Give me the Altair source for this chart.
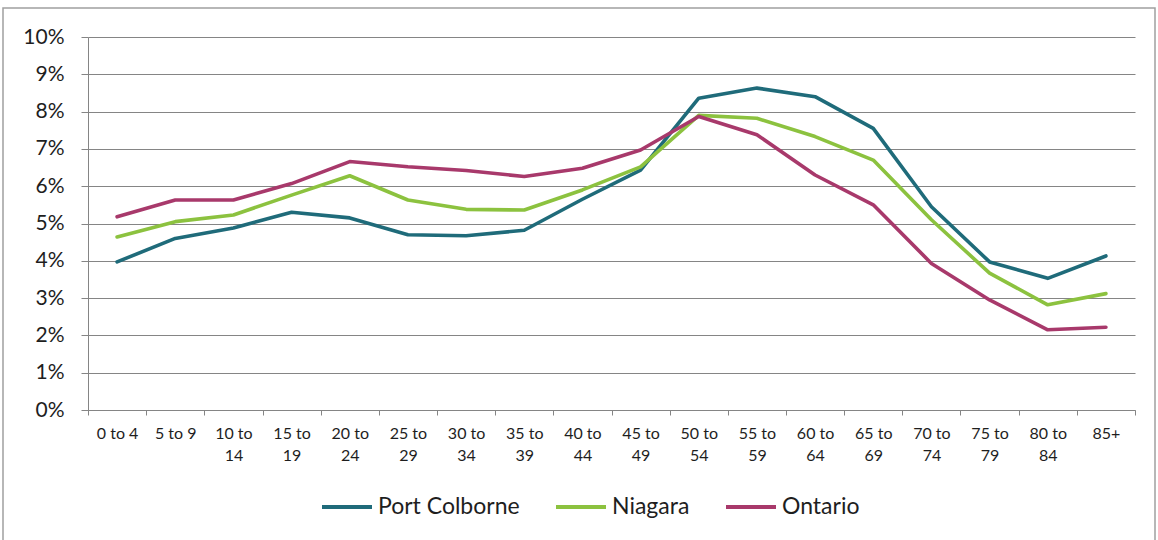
import altair as alt
import pandas as pd

# Share of population by five-year age group
age_groups = [
    "0 to 4", "5 to 9", "10 to 14", "15 to 19", "20 to 24", "25 to 29",
    "30 to 34", "35 to 39", "40 to 44", "45 to 49", "50 to 54", "55 to 59",
    "60 to 64", "65 to 69", "70 to 74", "75 to 79", "80 to 84", "85+",
]
port_colborne = [3.97, 4.60, 4.88, 5.30, 5.15, 4.70, 4.67, 4.82, 5.65, 6.43,
                 8.36, 8.63, 8.40, 7.55, 5.45, 3.97, 3.53, 4.13]
niagara = [4.64, 5.05, 5.23, 5.76, 6.28, 5.63, 5.38, 5.36, 5.90, 6.52,
           7.90, 7.82, 7.33, 6.70, 5.10, 3.67, 2.82, 3.12]
ontario = [5.18, 5.63, 5.63, 6.07, 6.66, 6.52, 6.42, 6.26, 6.48, 6.97,
           7.87, 7.38, 6.30, 5.50, 3.93, 2.95, 2.15, 2.22]

series_names = ["Port Colborne", "Niagara", "Ontario"]
series_colors = ["#1f6b7a", "#8cc23f", "#a8396b"]

rows = []
for name, values in zip(series_names, [port_colborne, niagara, ontario]):
    for i, (age, v) in enumerate(zip(age_groups, values)):
        rows.append({"age": age, "order": i, "region": name, "share": v / 100})
df = pd.DataFrame(rows)

FONT = "Lato"
TEXT = "#1e1e1e"
GRID = "#858585"

split_label = (
    "indexof(datum.label, ' to ') > 0 && length(datum.label) > 6 ? "
    "[slice(datum.label, 0, indexof(datum.label, ' to ') + 3), "
    "slice(datum.label, indexof(datum.label, ' to ') + 4)] : datum.label"
)

lines = alt.Chart(df).mark_line(strokeWidth=3.6, strokeJoin="round", strokeCap="round").encode(
    x=alt.X(
        "age:N",
        sort=age_groups,
        bandPosition=0.5,
        scale=alt.Scale(type="band", paddingInner=0, paddingOuter=0),
        axis=alt.Axis(
            title=None,
            grid=False,
            tickBand="extent",
            tickSize=5,
            tickColor=GRID,
            domainColor=GRID,
            labelAngle=0,
            labelFontSize=16,
            labelPadding=10,
            labelLineHeight=22,
            labelBaseline="top",
            labelExpr=split_label,
        ),
    ),
    y=alt.Y(
        "share:Q",
        scale=alt.Scale(domain=[0, 0.10], nice=False),
        axis=alt.Axis(
            title=None,
            format=".0%",
            values=[i / 100 for i in range(11)],
            grid=True,
            gridColor=GRID,
            gridWidth=1.2,
            tickSize=7,
            tickColor=GRID,
            domainColor=GRID,
            labelFontSize=21,
            labelPadding=17,
        ),
    ),
    color=alt.Color(
        "region:N",
        sort=series_names,
        scale=alt.Scale(domain=series_names, range=series_colors),
        legend=alt.Legend(
            title=None,
            orient="none",
            legendX=232,
            legendY=443,
            direction="horizontal",
            symbolType="stroke",
            symbolSize=2500,
            symbolStrokeWidth=4,
            labelFontSize=23,
            labelOffset=4,
            columnPadding=28,
            labelLimit=300,
        ),
    ),
    order="order:Q",
)

frame = alt.Chart(pd.DataFrame({"k": [0]})).mark_rect(
    fill=None, stroke="#a0a0a0", strokeWidth=1.5
).encode(
    x=alt.value(-85), x2=alt.value(1067), y=alt.value(-29), y2=alt.value(520)
)

chart = alt.layer(frame, lines).properties(
    width=1047,
    height=373,
    autosize=alt.AutoSizeParams(type="none"),
    padding={"left": 88, "top": 37, "right": 23, "bottom": 130},
    background="white",
).configure_view(stroke=None).configure_axis(
    labelFont=FONT, labelColor=TEXT
).configure_legend(
    labelFont=FONT, labelColor=TEXT
)

chart.save("out.html", embed_options={"renderer": "svg", "actions": False})
